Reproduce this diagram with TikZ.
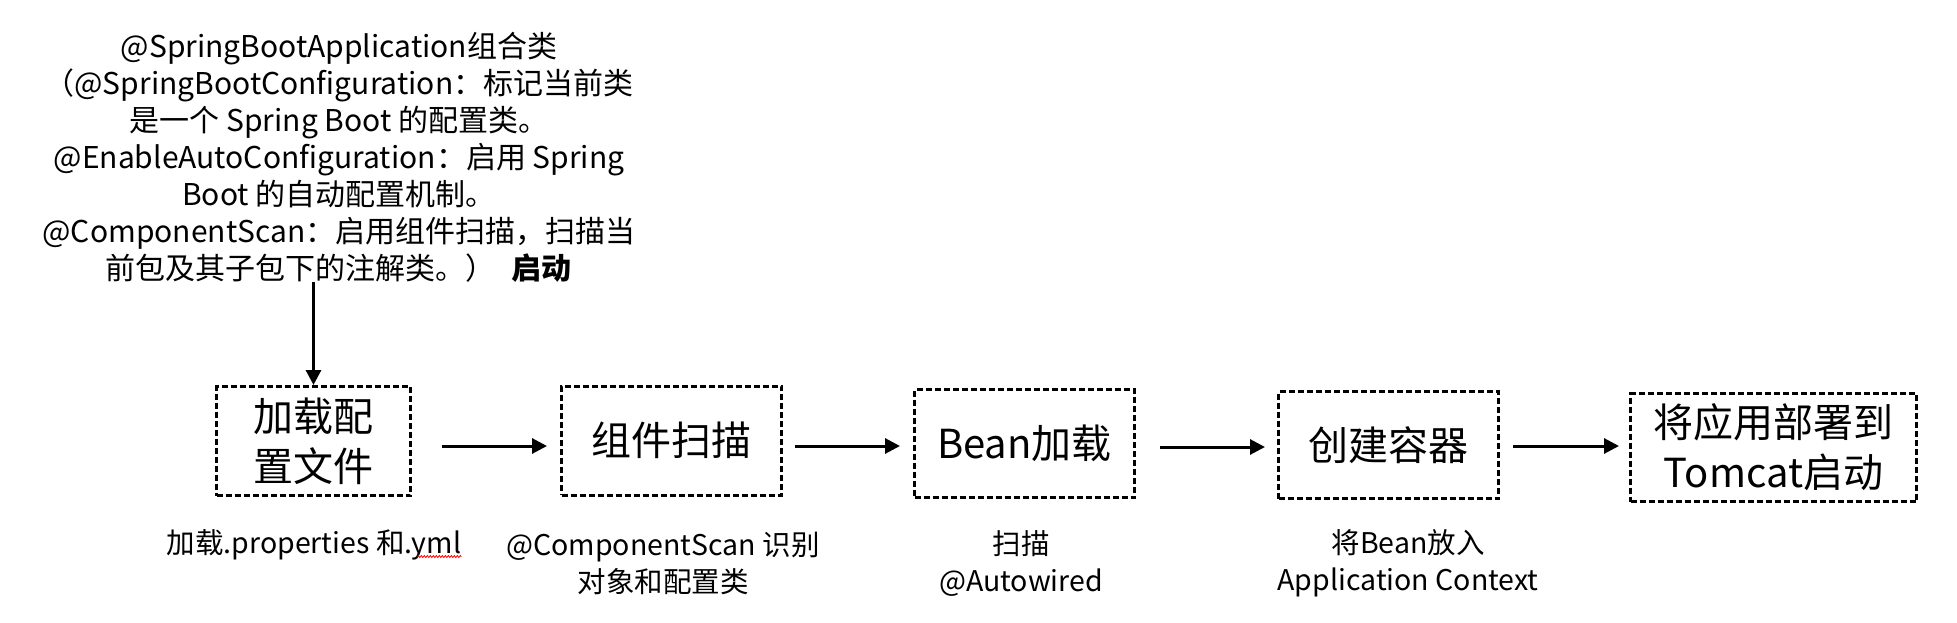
\documentclass[tikz,border=0pt]{standalone}
\usepackage{fontspec}
\setmainfont{Noto Sans CJK SC}
\usetikzlibrary{arrows.meta,decorations.pathmorphing}
\begin{document}
\begin{tikzpicture}[x=1pt,y=-1pt,
  stepbox/.style={draw,line width=3pt,dash pattern=on 6pt off 3pt,inner sep=0pt,align=center,
    font=\fontsize{40}{50}\selectfont},
  arr/.style={line width=3pt,-{Triangle[length=15pt,width=15pt]}},
  lbl/.style={align=center,font=\fontsize{28.5}{37}\selectfont,inner sep=0pt},
]
\useasboundingbox (0,0) rectangle (1957,623);

% top description
\node[lbl,font=\fontsize{30}{37}\selectfont] (top) at (339,157)
  {@SpringBootApplication组合类\\（@SpringBootConfiguration：标记当前类\\是一个 Spring Boot 的配置类。\\@EnableAutoConfiguration：启用 Spring\\Boot 的自动配置机制。\\@ComponentScan：启用组件扫描，扫描当\\前包及其子包下的注解类。）\hspace{16pt}\textbf{启动}};

% boxes
\node[stepbox,minimum width=194pt,minimum height=109pt] (b1) at (313.5,441) {加载配\\置文件};
\node[stepbox,minimum width=220pt,minimum height=109pt] (b2) at (671.5,440.5) {组件扫描};
\node[stepbox,minimum width=220pt,minimum height=108pt] (b3) at (1024.5,443.5) {Bean加载};
\node[stepbox,minimum width=220pt,minimum height=107pt] (b4) at (1388.5,445) {创建容器};
\node[stepbox,minimum width=286pt,minimum height=108pt] (b5) at (1773.5,447.5) {将应用部署到\\Tomcat启动};

% arrows
\draw[arr] (b1.north |- top.south) -- (b1.north);
\draw[arr] ([xshift=30pt,yshift=-5pt]b1.east) -- ([xshift=-13pt,yshift=-5.5pt]b2.west);
\draw[arr] ([xshift=12pt,yshift=-5.5pt]b2.east) -- ([xshift=-13pt,yshift=-2.5pt]b3.west);
\draw[arr] ([xshift=24pt,yshift=-3.5pt]b3.east) -- ([xshift=-12pt,yshift=-2pt]b4.west);
\draw[arr] ([xshift=13pt,yshift=-1pt]b4.east) -- ([xshift=-10pt,yshift=1.5pt]b5.west);

% labels below
\node[lbl] (l1) at (314,545) {加载.properties 和.yml};
\node[lbl] (l2) at (663,563.5) {@ComponentScan 识别\\对象和配置类};
\node[lbl] (l3) at (1021,563.5) {扫描\\@Autowired};
\node[lbl] (l4) at (1408,563.5) {将Bean放入\\Application Context};
\draw[red,line width=0.8pt,decorate,decoration={snake,amplitude=1pt,segment length=3pt}]
  ([xshift=-44pt,yshift=4pt]l1.south east) -- ([yshift=4pt]l1.south east);
\end{tikzpicture}
\end{document}
